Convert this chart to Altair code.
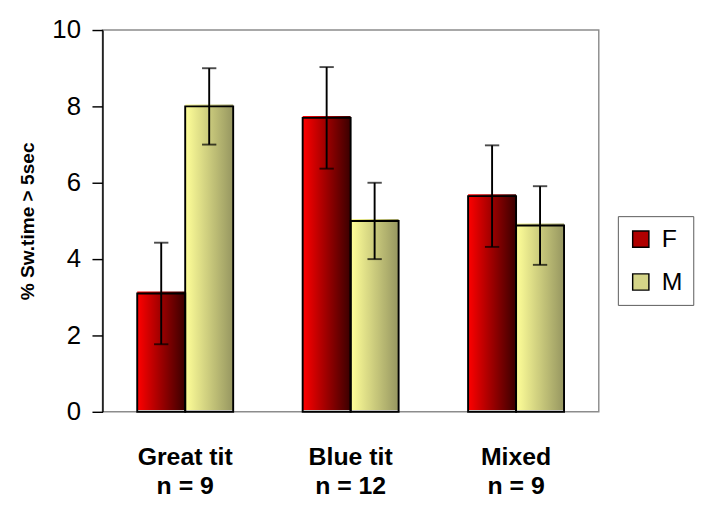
import altair as alt
import pandas as pd

groups = ["Great tit", "Blue tit", "Mixed"]
ns = ["n = 9", "n = 12", "n = 9"]
sexes = ["F", "M"]
f_mean = [3.1, 7.7, 5.65]
f_err = [1.33, 1.33, 1.33]
m_mean = [8.0, 5.0, 4.88]
m_err = [1.0, 1.0, 1.03]
y_ticks = [0, 2, 4, 6, 8, 10]

labels = [g + "|" + n for g, n in zip(groups, ns)]
rows = []
for i, lab in enumerate(labels):
    rows.append(dict(label=lab, sex="F", value=f_mean[i], lo=f_mean[i] - f_err[i], hi=f_mean[i] + f_err[i]))
    rows.append(dict(label=lab, sex="M", value=m_mean[i], lo=m_mean[i] - m_err[i], hi=m_mean[i] + m_err[i]))
df = pd.DataFrame(rows)

FONT = "Arial, Liberation Sans"

grad_f = alt.Gradient(gradient="linear", x1=0, x2=1, y1=0, y2=0,
                      stops=[alt.GradientStop(offset=0, color="#ff0000"),
                             alt.GradientStop(offset=1, color="#3a0000")])
grad_m = alt.Gradient(gradient="linear", x1=0, x2=1, y1=0, y2=0,
                      stops=[alt.GradientStop(offset=0, color="#ffff99"),
                             alt.GradientStop(offset=1, color="#969660")])

x_enc = alt.X("label:N", sort=labels,
              scale=alt.Scale(paddingInner=0.42, paddingOuter=0.21),
              axis=alt.Axis(title=None, labelExpr="split(datum.label, '|')",
                            labelFont=FONT, labelFontSize=26, labelFontWeight="bold",
                            labelColor="black", labelPadding=34, labelLineHeight=31,
                            ticks=False, domain=False, labelAngle=0))
xo_enc = alt.XOffset("sex:N", scale=alt.Scale(domain=sexes, paddingInner=0, paddingOuter=0))


def y_enc(field):
    return alt.Y(field, type="quantitative", scale=alt.Scale(domain=[0, 10]),
                 title="% Sw.time > 5sec",
                 axis=alt.Axis(values=y_ticks, grid=False, labelFont=FONT, labelFontSize=27,
                               labelColor="black", labelPadding=12, tickSize=11,
                               tickColor="black", tickWidth=1.5, domainColor="black",
                               domainWidth=1.5, titleFont=FONT, titleFontSize=20,
                               titleFontWeight="bold", titleColor="black", titlePadding=15))


base = alt.Chart(df)

bars_f = base.transform_filter("datum.sex == 'F'").mark_bar(
    fill=grad_f, xOffset=-2, x2Offset=-2, yOffset=-2).encode(
    x=x_enc, xOffset=xo_enc, y=y_enc("value"))
bars_m = base.transform_filter("datum.sex == 'M'").mark_bar(
    fill=grad_m, xOffset=-2, x2Offset=-2, yOffset=-2).encode(
    x=x_enc, xOffset=xo_enc, y=y_enc("value"))
outline = base.mark_bar(fillOpacity=0, stroke="black", strokeWidth=2).encode(
    x=x_enc, xOffset=xo_enc, y=y_enc("value"))
rules = base.mark_rule(color="black", strokeWidth=2).encode(
    x=x_enc, xOffset=xo_enc, y=y_enc("lo"), y2="hi:Q")
cap_hi = base.mark_tick(color="black", thickness=2, size=15).encode(
    x=x_enc, xOffset=xo_enc, y=y_enc("hi"))
cap_lo = base.mark_tick(color="black", thickness=2, size=15).encode(
    x=x_enc, xOffset=xo_enc, y=y_enc("lo"))

legend_layer = base.mark_square(opacity=0).encode(
    x=x_enc, xOffset=xo_enc, y=y_enc("value"),
    color=alt.Color("sex:N", scale=alt.Scale(domain=sexes, range=["#b00000", "#d4d488"]),
                    legend=alt.Legend(orient="none", legendX=540, legendY=195, title=None,
                                      symbolType="square", symbolSize=289,
                                      symbolStrokeColor="black", symbolStrokeWidth=1.5,
                                      symbolOpacity=1, labelFont=FONT, labelFontSize=26,
                                      labelColor="black", labelOffset=9, rowPadding=19,
                                      padding=11, strokeColor="#555555", fillColor="white")))

chart = alt.layer(bars_f, bars_m, outline, rules, cap_hi, cap_lo, legend_layer).properties(
    width=520, height=400, background="white",
    padding={"left": 10, "top": -3, "right": 5, "bottom": 5}
).configure_view(stroke="#8c8c8c", strokeWidth=1.5)

chart.save("out.html", embed_options={"renderer": "svg", "actions": False})
